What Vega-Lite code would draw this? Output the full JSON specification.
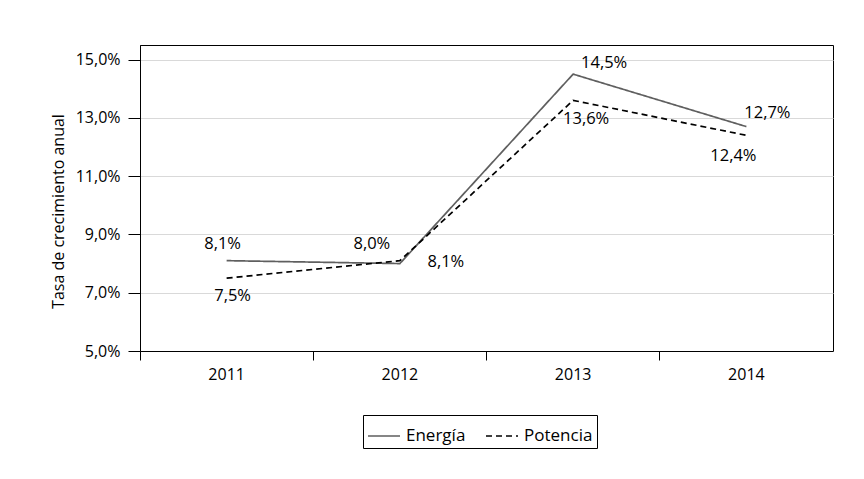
{
  "$schema": "https://vega.github.io/schema/vega-lite/v6.json",
  "width": 693,
  "height": 306,
  "autosize": {"type": "none"},
  "padding": {"left": 140, "top": 45, "right": 31, "bottom": 128},
  "background": "white",
  "data": {
    "values": [
      {"year": "2011", "serie": "Energía", "valor": 0.081},
      {"year": "2012", "serie": "Energía", "valor": 0.080},
      {"year": "2013", "serie": "Energía", "valor": 0.145},
      {"year": "2014", "serie": "Energía", "valor": 0.127},
      {"year": "2011", "serie": "Potencia", "valor": 0.075},
      {"year": "2012", "serie": "Potencia", "valor": 0.081},
      {"year": "2013", "serie": "Potencia", "valor": 0.136},
      {"year": "2014", "serie": "Potencia", "valor": 0.124}
    ]
  },
  "encoding": {
    "x": {
      "field": "year",
      "type": "ordinal",
      "scale": {"type": "band", "paddingInner": 0, "paddingOuter": 0},
      "axis": {
        "title": null,
        "bandPosition": 0,
        "labelAngle": 0,
        "tickSize": 9,
        "labelPadding": 6,
        "domainColor": "black",
        "tickColor": "black",
        "grid": false
      }
    },
    "y": {
      "field": "valor",
      "type": "quantitative",
      "scale": {"domain": [0.05, 0.155], "nice": false, "zero": false},
      "axis": {
        "title": "Tasa de crecimiento anual",
        "values": [0.05, 0.07, 0.09, 0.11, 0.13, 0.15],
        "format": ".1%",
        "tickSize": 12,
        "labelPadding": 8,
        "titlePadding": 9,
        "titleY": 166,
        "domainColor": "black",
        "tickColor": "black",
        "gridColor": "#d9d9d9"
      }
    }
  },
  "layer": [
    {
      "mark": {"type": "line", "strokeWidth": 1.7},
      "encoding": {
        "color": {
          "field": "serie",
          "type": "nominal",
          "scale": {"domain": ["Energía", "Potencia"], "range": ["#5f5f5f", "#000000"]},
          "legend": {
            "title": null,
            "orient": "none",
            "direction": "horizontal",
            "legendX": 223,
            "legendY": 370,
            "symbolType": "stroke",
            "symbolSize": 1024,
            "symbolStrokeWidth": 1.7,
            "labelOffset": 5,
            "columnPadding": 16,
            "padding": 4,
            "strokeColor": "black",
            "labelFontSize": 17,
            "labelColor": "black"
          }
        },
        "strokeDash": {
          "field": "serie",
          "type": "nominal",
          "scale": {"domain": ["Energía", "Potencia"], "range": [[1, 0], [6, 4]]},
          "legend": {
            "title": null,
            "orient": "none",
            "direction": "horizontal",
            "legendX": 223,
            "legendY": 370,
            "symbolType": "stroke",
            "symbolSize": 1024,
            "symbolStrokeWidth": 1.7,
            "labelOffset": 5,
            "columnPadding": 16,
            "padding": 4,
            "strokeColor": "black",
            "labelFontSize": 17,
            "labelColor": "black"
          }
        }
      }
    },
    {
      "transform": [{"filter": "datum.serie == 'Energía' && datum.year == '2011'"}],
      "mark": {"type": "text", "fontSize": 16.5, "dx": -4, "dy": -17},
      "encoding": {"text": {"field": "valor", "format": ".1%"}}
    },
    {
      "transform": [{"filter": "datum.serie == 'Energía' && datum.year == '2012'"}],
      "mark": {"type": "text", "fontSize": 16.5, "dx": -28, "dy": -20},
      "encoding": {"text": {"field": "valor", "format": ".1%"}}
    },
    {
      "transform": [{"filter": "datum.serie == 'Energía' && datum.year == '2013'"}],
      "mark": {"type": "text", "fontSize": 16.5, "dx": 31, "dy": -11},
      "encoding": {"text": {"field": "valor", "format": ".1%"}}
    },
    {
      "transform": [{"filter": "datum.serie == 'Energía' && datum.year == '2014'"}],
      "mark": {"type": "text", "fontSize": 16.5, "dx": 21, "dy": -14},
      "encoding": {"text": {"field": "valor", "format": ".1%"}}
    },
    {
      "transform": [{"filter": "datum.serie == 'Potencia' && datum.year == '2011'"}],
      "mark": {"type": "text", "fontSize": 16.5, "dx": 6, "dy": 18},
      "encoding": {"text": {"field": "valor", "format": ".1%"}}
    },
    {
      "transform": [{"filter": "datum.serie == 'Potencia' && datum.year == '2012'"}],
      "mark": {"type": "text", "fontSize": 16.5, "dx": 46, "dy": 1},
      "encoding": {"text": {"field": "valor", "format": ".1%"}}
    },
    {
      "transform": [{"filter": "datum.serie == 'Potencia' && datum.year == '2013'"}],
      "mark": {"type": "text", "fontSize": 16.5, "dx": 13, "dy": 19},
      "encoding": {"text": {"field": "valor", "format": ".1%"}}
    },
    {
      "transform": [{"filter": "datum.serie == 'Potencia' && datum.year == '2014'"}],
      "mark": {"type": "text", "fontSize": 16.5, "dx": -13, "dy": 21},
      "encoding": {"text": {"field": "valor", "format": ".1%"}}
    }
  ],
  "config": {
    "font": "Open Sans",
    "locale": {
      "number": {"decimal": ",", "thousands": ".", "grouping": [3], "currency": ["", " €"]}
    },
    "view": {"stroke": "black", "strokeWidth": 1},
    "axis": {
      "labelFontSize": 16,
      "labelColor": "black",
      "titleFontSize": 16,
      "titleFontWeight": "normal",
      "titleColor": "black"
    },
    "text": {"color": "black", "baseline": "middle"}
  }
}
